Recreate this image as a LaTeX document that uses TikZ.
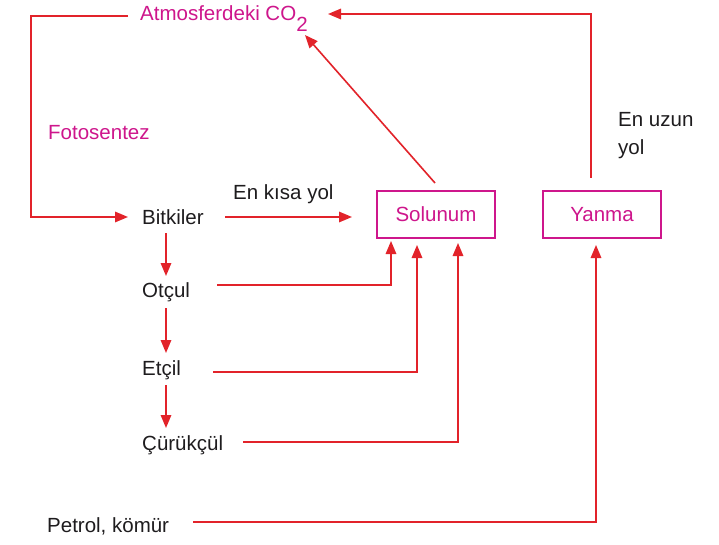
\documentclass[tikz,border=0pt]{standalone}
\usepackage{fontspec}
\setmainfont{Liberation Sans}
\usetikzlibrary{arrows.meta}
\definecolor{mag}{RGB}{206,22,140}
\definecolor{lred}{RGB}{226,35,42}
\definecolor{ink}{RGB}{30,28,30}
\tikzset{
  txt/.style={anchor=base west,inner sep=0pt,text=ink,font=\fontsize{20.5}{24}\selectfont},
  mtxt/.style={txt,text=mag},
  boxnode/.style={draw=mag,line width=2pt,minimum width=118pt,minimum height=47pt,inner sep=0pt,text=mag,font=\fontsize{20.5}{24}\selectfont},
  link/.style={draw=lred,line width=1.6pt},
  arr/.style={link,-{Triangle[length=13pt,width=10.5pt]}}
}
\begin{document}
\begin{tikzpicture}[x=1pt,y=-1pt]
\useasboundingbox[fill=white] (0,0) rectangle (719,545);
% text nodes
\node[mtxt] (co2) at (140,21) {Atmosferdeki CO\raisebox{-11pt}{2}};
\node[mtxt] (foto) at (48,140) {Fotosentez};
\node[txt] (bitki) at (142,224) {Bitkiler};
\node[txt] (kisa) at (233,200) {En kısa yol};
\node[txt] (otcul) at (142,297) {Otçul};
\node[txt] (etcil) at (142,375) {Etçil};
\node[txt] (curuk) at (142,450) {Çürükçül};
\node[txt] (petrol) at (47,532) {Petrol, kömür};
\node[txt] (uzun1) at (618,127) {En uzun};
\node[txt] (uzun2) at (618,155) {yol};
\node[boxnode] (sol) at (436,214.5) {Solunum};
\node[boxnode] (yan) at (602,214.5) {Yanma};
% anchor coordinates
\coordinate (coL) at (128,16);
\coordinate (biL) at (128,217);
\coordinate (biR) at (225,217);
\coordinate (solL) at (352,217);
\coordinate (solT) at (435,183);
\coordinate (coD) at (305,35);
\coordinate (yanT) at (591,178);
\coordinate (coR) at (328,14);
\coordinate (biB) at (166,233);
\coordinate (otT) at (166,276);
\coordinate (otB) at (166,308);
\coordinate (etT) at (166,353);
\coordinate (etB) at (166,385);
\coordinate (cuT) at (166,428);
\coordinate (otR) at (217,285);
\coordinate (solB1) at (391,241);
\coordinate (etR) at (213,372);
\coordinate (solB2) at (417,245);
\coordinate (cuR) at (243,442);
\coordinate (solB3) at (458,243);
\coordinate (peR) at (193,522);
\coordinate (yanB) at (596,245);
% connectors
\draw[arr] (coL) -- ++(-97,0) |- (biL);
\draw[arr] (biR) -- (solL);
\draw[arr] (solT) -- (coD);
\draw[arr] (yanT) |- (coR);
\draw[arr] (biB) -- (otT);
\draw[arr] (otB) -- (etT);
\draw[arr] (etB) -- (cuT);
\draw[arr] (otR) -| (solB1);
\draw[arr] (etR) -| (solB2);
\draw[arr] (cuR) -| (solB3);
\draw[arr] (peR) -| (yanB);
\end{tikzpicture}
\end{document}
